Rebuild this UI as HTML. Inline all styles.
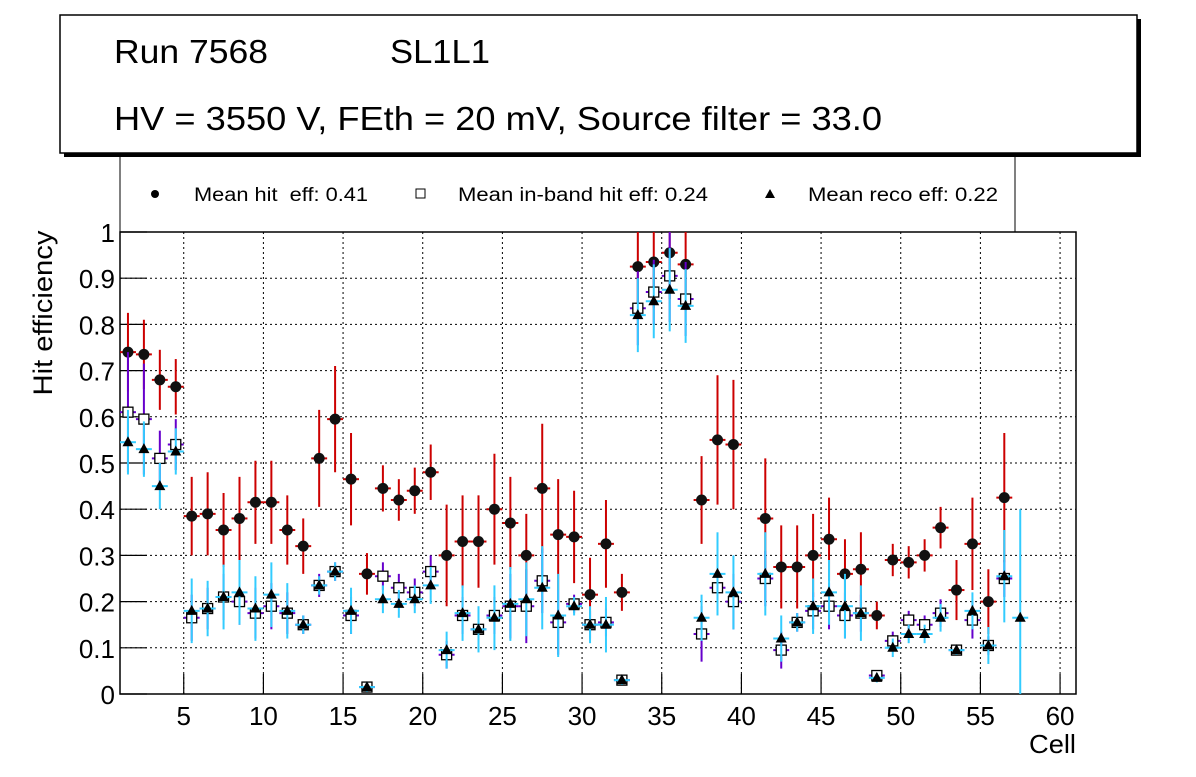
<!DOCTYPE html>
<html><head><meta charset="utf-8"><style>
body{margin:0;background:#fff;}
svg text{font-family:"Liberation Sans",sans-serif;white-space:pre;}
</style></head><body>
<svg id="chart" width="1196" height="772" xmlns="http://www.w3.org/2000/svg">
<rect x="0" y="0" width="1196" height="772" fill="#fff"/>
<g>
<rect x="64" y="19" width="1077" height="138" fill="#000"/>
<rect x="60" y="15" width="1077" height="138" fill="#fff" stroke="#000" stroke-width="1.5"/>
<text x="114" y="63" font-size="33" textLength="154" lengthAdjust="spacingAndGlyphs">Run 7568</text>
<text x="390" y="63" font-size="33" textLength="100" lengthAdjust="spacingAndGlyphs">SL1L1</text>
<text x="114" y="130" font-size="33" textLength="768" lengthAdjust="spacingAndGlyphs">HV = 3550 V, FEth = 20 mV, Source filter = 33.0</text>
</g>
<g>
<polyline points="120,157 120,232 1015,232 1015,157" fill="#fff" stroke="#000" stroke-width="1"/>
<g><circle cx="155" cy="194" r="4" fill="#000"/><text x="194" y="201" font-size="19" textLength="174" lengthAdjust="spacingAndGlyphs">Mean hit  eff: 0.41</text></g>
<g><rect x="416" y="189" width="9" height="9" fill="#fff" stroke="#000"/><text x="458" y="201" font-size="19" textLength="250" lengthAdjust="spacingAndGlyphs">Mean in-band hit eff: 0.24</text></g>
<g><polygon points="770,189 765,198 775,198" fill="#000"/><text x="808" y="201" font-size="19" textLength="190" lengthAdjust="spacingAndGlyphs">Mean reco eff: 0.22</text></g>
</g>
<g id="axes"></g>
<g id="marks"></g>
<text x="52" y="313" font-size="27" transform="rotate(-90 52 313)" text-anchor="middle" textLength="165" lengthAdjust="spacingAndGlyphs">Hit efficiency</text>
<text x="1076" y="753" font-size="26" text-anchor="end" textLength="47" lengthAdjust="spacingAndGlyphs">Cell</text>
</svg>
<script>
const hitEff=[0.74,0.735,0.68,0.665,0.385,0.39,0.355,0.38,0.415,0.415,0.355,0.32,0.51,0.595,0.465,0.26,0.445,0.42,0.44,0.48,0.30,0.33,0.33,0.40,0.37,0.30,0.445,0.345,0.34,0.215,0.325,0.22,0.925,0.935,0.955,0.93,0.42,0.55,0.54,null,0.38,0.275,0.275,0.30,0.335,0.26,0.27,0.17,0.29,0.285,0.30,0.36,0.225,0.325,0.20,0.425,null];
const hitErr=[0.085,0.075,0.065,0.06,0.085,0.09,0.08,0.09,0.09,0.09,0.075,0.06,0.105,0.115,0.1,0.045,0.05,0.045,0.05,0.06,0.11,0.1,0.1,0.12,0.1,0.09,0.14,0.12,0.1,0.08,0.095,0.04,0.1,0.1,0.1,0.1,0.095,0.14,0.14,0,0.13,0.09,0.09,0.09,0.09,0.075,0.08,0.03,0.035,0.035,0.035,0.045,0.065,0.1,0.07,0.14,0];
const bandEff=[0.61,0.595,0.51,0.54,0.165,0.185,0.21,0.2,0.175,0.19,0.175,0.15,0.235,0.265,0.17,0.015,0.255,0.23,0.22,0.265,0.085,0.17,0.14,0.17,0.19,0.19,0.245,0.155,0.195,0.15,0.155,0.03,0.835,0.87,0.905,0.855,0.13,0.23,0.2,null,0.25,0.095,0.155,0.18,0.19,0.17,0.175,0.04,0.115,0.16,0.15,0.175,0.095,0.16,0.105,0.25,null];
const bandErr=[0.13,0.12,0.06,0.055,0.05,0.045,0.05,0.05,0.055,0.05,0.045,0.02,0.025,0.02,0.04,0.01,0.03,0.03,0.03,0.035,0.03,0.04,0.02,0.04,0.07,0.08,0.07,0.07,0.02,0.03,0.03,0.01,0.08,0.07,0.1,0.08,0.06,0.05,0.06,0,0.06,0.04,0.02,0.04,0.05,0.05,0.04,0.01,0.02,0.02,0.02,0.03,0.01,0.04,0.02,0.04,0];
const recoEff=[0.545,0.53,0.45,0.525,0.18,0.185,0.21,0.22,0.185,0.215,0.18,0.15,0.235,0.265,0.18,0.015,0.205,0.195,0.205,0.235,0.095,0.175,0.14,0.165,0.195,0.205,0.23,0.17,0.19,0.15,0.15,0.03,0.82,0.85,0.875,0.84,0.165,0.26,0.22,null,0.26,0.12,0.155,0.19,0.22,0.19,0.175,0.035,0.1,0.13,0.13,0.165,0.095,0.18,0.105,0.255,0.165];
const recoErr=[0.07,0.06,0.05,0.05,0.07,0.06,0.07,0.07,0.07,0.07,0.06,0.02,0.02,0.02,0.05,0.01,0.03,0.03,0.03,0.04,0.04,0.06,0.05,0.07,0.08,0.08,0.09,0.09,0.02,0.04,0.06,0.01,0.08,0.08,0.09,0.08,0.05,0.09,0.08,0,0.09,0.05,0.02,0.06,0.07,0.07,0.06,0.01,0.02,0.02,0.02,0.03,0.01,0.04,0.04,0.1,0.235];
const xTicks=[5,10,15,20,25,30,35,40,45,50,55,60];
const yTicks=[0,0.1,0.2,0.3,0.4,0.5,0.6,0.7,0.8,0.9,1];
const X0=120,X1=1076,Y0=694,Y1=232,XMIN=1,XMAX=61;
const xs=v=>X0+(v-XMIN)/(XMAX-XMIN)*(X1-X0);
const ys=v=>Y0-v*(Y0-Y1);
const NS="http://www.w3.org/2000/svg";
function mk(p,t,a){const e=document.createElementNS(NS,t);for(const k in a)e.setAttribute(k,a[k]);p.appendChild(e);return e;}
const ax=document.getElementById('axes'),mg=document.getElementById('marks');
mk(ax,'rect',{x:X0,y:Y1,width:X1-X0,height:Y0-Y1,fill:'none',stroke:'#000','stroke-width':1.5});
xTicks.forEach(t=>{const x=xs(t);
 const g=mk(ax,'line',{x1:x,x2:x,y1:Y1,y2:Y0,stroke:'#000','stroke-dasharray':'2,3','stroke-width':1});
 
 mk(ax,'line',{x1:x,x2:x,y1:Y0,y2:Y0-20,stroke:'#000','stroke-width':1.2});
 const tx=mk(ax,'text',{x:x,y:Y0+31,'font-size':26,'text-anchor':'middle'});tx.textContent=t;
 });
yTicks.forEach(t=>{const y=ys(t);
 if(t>0&&t<1){const g=mk(ax,'line',{x1:X0,x2:X1,y1:y,y2:y,stroke:'#000','stroke-dasharray':'2,3','stroke-width':1});
 }
 mk(ax,'line',{x1:X0,x2:X0+27,y1:y,y2:y,stroke:'#000','stroke-width':1.2});
 const tx=mk(ax,'text',{x:X0-5,y:y+10,'font-size':26,'text-anchor':'end'});tx.textContent=String(t);
 });
function series(vals,errs,col,shape,name){
 vals.forEach((v,i)=>{if(v===null)return;const c=i+1.5,x=xs(c),y=ys(v);
  const g=mk(mg,'g',{});
  
  
  mk(g,'line',{x1:xs(c-0.5),x2:xs(c+0.5),y1:y,y2:y,stroke:col,'stroke-width':2});
  mk(g,'line',{x1:x,x2:x,y1:ys(Math.min(1,v+errs[i])),y2:ys(Math.max(0,v-errs[i])),stroke:col,'stroke-width':2});
  if(shape==='c')mk(g,'circle',{cx:x,cy:y,r:5.5,fill:'#111'});
  else if(shape==='s')mk(g,'rect',{x:x-5,y:y-5,width:10,height:10,fill:'#fff',stroke:'#000','stroke-width':1.3});
  else mk(g,'polygon',{points:`${x},${y-6} ${x-5.5},${y+4} ${x+5.5},${y+4}`,fill:'#000'});
 });}
series(hitEff,hitErr,'#cc0000','c','hit-eff');
series(bandEff,bandErr,'#6600cc','s','inband-eff');
series(recoEff,recoErr,'#33ccff','t','reco-eff');
</script>
</body></html>
